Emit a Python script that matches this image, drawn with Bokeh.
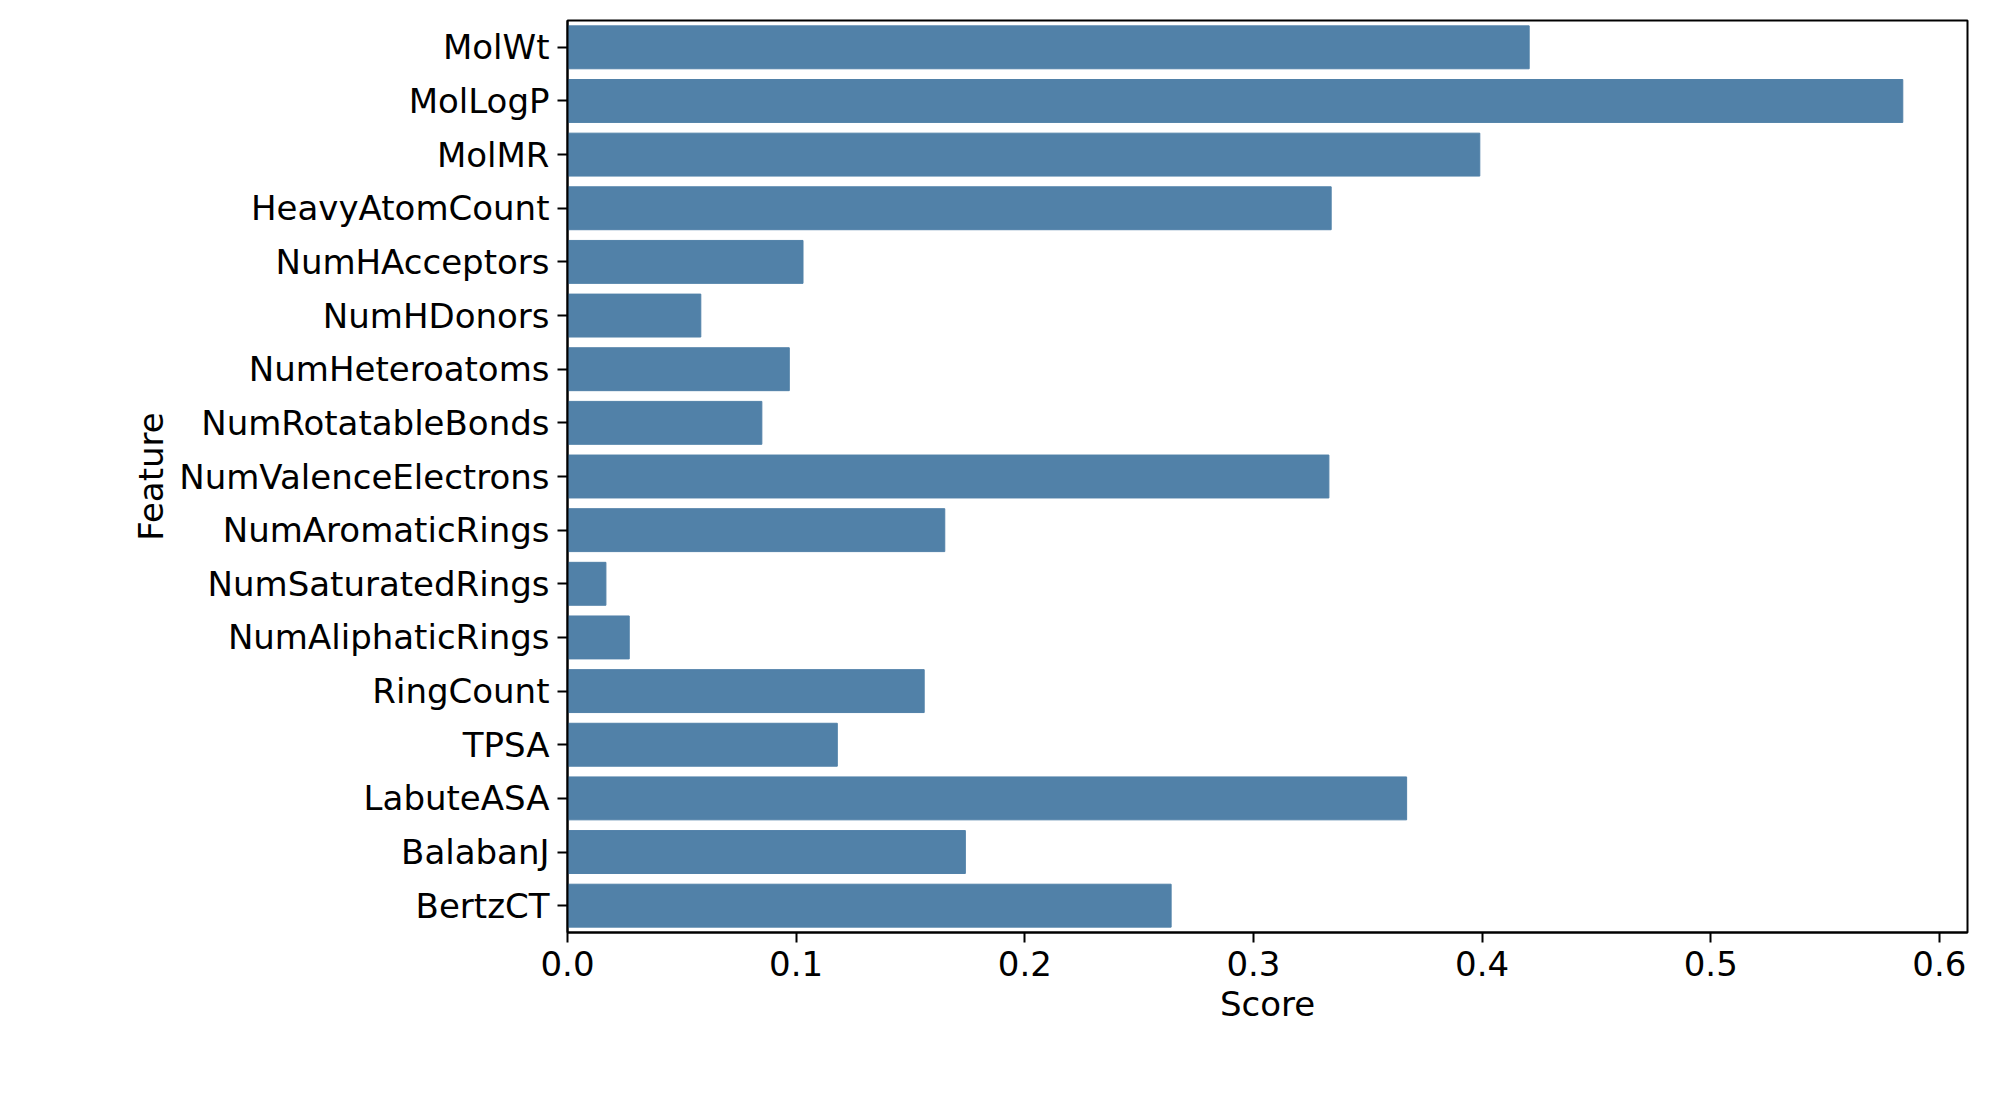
from bokeh.plotting import figure
from bokeh.models import FixedTicker, Range1d, FactorRange
from bokeh.embed import file_html
from bokeh.resources import INLINE

features = ["MolWt", "MolLogP", "MolMR", "HeavyAtomCount", "NumHAcceptors", "NumHDonors",
            "NumHeteroatoms", "NumRotatableBonds", "NumValenceElectrons", "NumAromaticRings",
            "NumSaturatedRings", "NumAliphaticRings", "RingCount", "TPSA", "LabuteASA",
            "BalabanJ", "BertzCT"]
scores = [0.4206, 0.584, 0.399, 0.334, 0.103, 0.0583, 0.097, 0.085, 0.333, 0.165,
          0.0168, 0.027, 0.156, 0.118, 0.367, 0.174, 0.264]
x_ticks = [0.0, 0.1, 0.2, 0.3, 0.4, 0.5, 0.6]
x_labels = ["0.0", "0.1", "0.2", "0.3", "0.4", "0.5", "0.6"]

p = figure(y_range=FactorRange(*features[::-1]), x_range=Range1d(0, 0.6123),
           frame_width=1400, frame_height=912, output_backend="svg", toolbar_location=None,
           x_axis_label="Score", y_axis_label="Feature",
           min_border_left=567, min_border_top=20, min_border_right=10)
p.hbar(y=features, right=scores, left=0, height=0.8, color="#5181a8")

p.xaxis.ticker = FixedTicker(ticks=x_ticks)
p.xaxis.major_label_overrides = {t: l for t, l in zip(x_ticks, x_labels)}
p.xgrid.visible = False
p.ygrid.visible = False
p.outline_line_color = "black"
p.outline_line_width = 2
for ax in (p.xaxis, p.yaxis):
    ax.major_label_text_font = "DejaVu Sans"
    ax.major_label_text_font_size = "34px"
    ax.axis_label_text_font = "DejaVu Sans"
    ax.axis_label_text_font_size = "34px"
    ax.axis_label_text_font_style = "normal"
    ax.axis_line_color = "black"
    ax.axis_line_width = 2
    ax.major_tick_line_color = "black"
    ax.major_tick_line_width = 2
    ax.major_tick_out = 10
    ax.major_tick_in = 0
    ax.major_label_standoff = 8
    ax.minor_tick_line_color = None
    ax.major_label_text_color = "black"
    ax.axis_label_text_color = "black"

open("out.html", "w").write(file_html(p, INLINE))
